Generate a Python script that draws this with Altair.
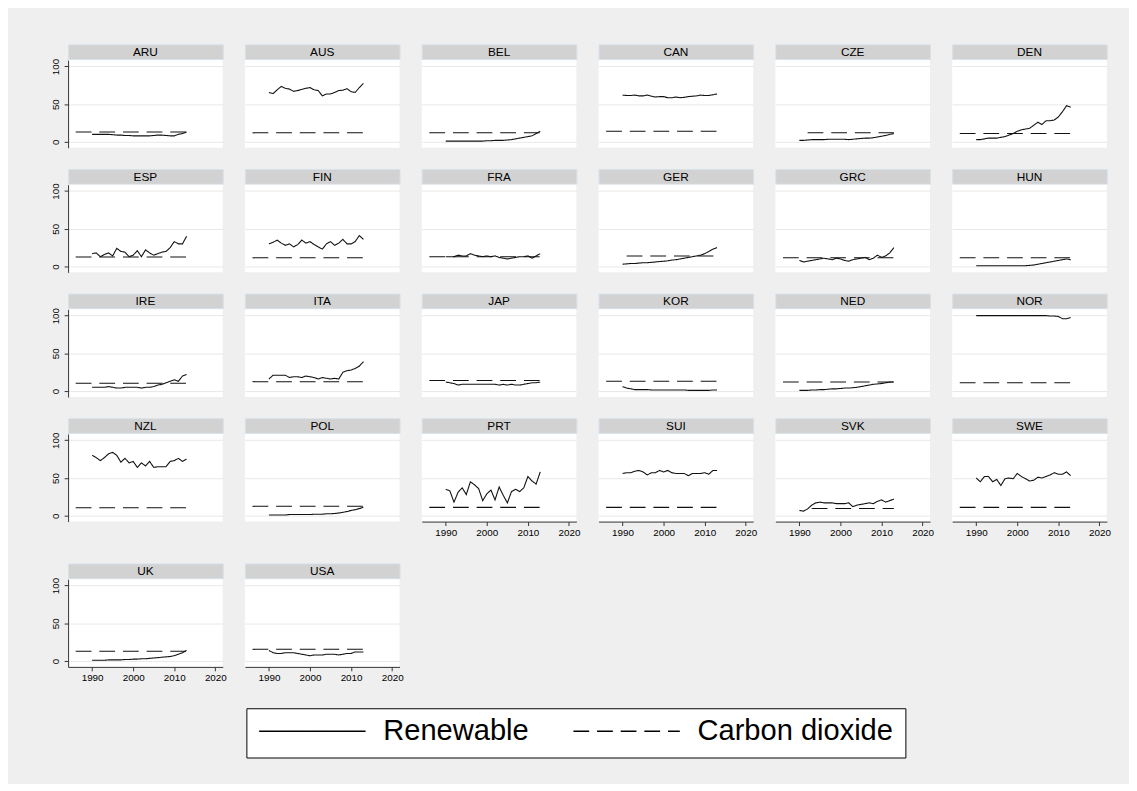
import altair as alt
import pandas as pd

COUNTRIES = ["ARU", "AUS", "BEL", "CAN", "CZE", "DEN",
             "ESP", "FIN", "FRA", "GER", "GRC", "HUN",
             "IRE", "ITA", "JAP", "KOR", "NED", "NOR",
             "NZL", "POL", "PRT", "SUI", "SVK", "SWE",
             "UK", "USA"]
X_AXIS_COUNTRIES = ["PRT", "SUI", "SVK", "SWE", "UK", "USA"]

REN_YEARS = list(range(1990, 2014))
X_TICKS = [1990, 2000, 2010, 2020]
Y_TICKS = [0, 50, 100]
SERIES = ["Renewable", "Carbon dioxide"]

# Renewable share, 1990-2013
REN_ARU = [10, 10, 10, 10, 10, 9.5, 9, 9, 8.5, 8.5, 8, 8, 8, 8, 8, 8.5, 9, 9, 8.5, 8, 8, 10, 11, 13]
REN_AUS = [65.5, 64, 69, 73.5, 71, 70, 67, 68, 69.5, 71, 72, 69, 68, 61, 63.5, 63.5, 65.5, 68, 68.5, 70.5, 66.5, 65.5, 72, 77.5]
REN_BEL = [1, 1, 1, 1, 1, 1, 1, 1, 1, 1, 1.5, 1.5, 2, 2, 2, 2.5, 3, 4, 5, 6, 7, 8, 11, 14]
REN_CAN = [62, 61.5, 61.5, 62, 61, 61, 62, 60.5, 59.5, 60, 60, 58.5, 58.5, 59.5, 58.5, 59, 60, 60.5, 61, 62, 61.5, 61.5, 62.5, 63.5]
REN_CZE = [2, 2, 2.5, 3, 3, 3, 3, 3.5, 3.5, 3.5, 3.5, 3.5, 3, 3.5, 4, 4.5, 5, 5, 5.5, 6.5, 7.5, 8.5, 10, 11]
REN_DEN = [3, 3, 4, 5, 5, 5, 6, 7, 9, 11, 14, 16, 17, 18, 22, 26, 23, 28, 28, 29, 33, 40, 48, 46]
REN_ESP = [17, 18, 13, 16, 18, 14, 24, 20, 19, 13, 15, 21, 13, 22, 18, 15, 17, 19, 20, 25, 33, 30, 30, 40]
REN_FIN = [30, 32, 35, 31, 28, 30, 26, 29, 35, 31, 33, 29, 26, 23, 30, 33, 28, 31, 36, 30, 30, 33, 41, 36]
REN_FRA = [13, 13, 13, 15, 14, 14, 17, 15, 14, 13, 14, 13, 14, 12, 11, 10, 11, 12, 13, 13, 14, 11, 14, 17]
REN_GER = [3, 3.5, 4, 4, 4.5, 5, 5, 5.5, 6, 6.5, 7, 7.5, 8.5, 9, 10, 11, 12, 13, 14, 15, 17, 20, 23, 25]
REN_GRC = [8, 6, 7, 8, 9, 10, 11, 10, 9, 11, 10, 8, 7, 9, 10, 11, 12, 9, 11, 15, 12, 14, 18, 25]
REN_HUN = [1, 1, 1, 1, 1, 1, 1, 1, 1, 1, 1, 1, 1, 1.5, 2, 3, 4, 5, 6, 7, 8, 9, 10, 9]
REN_IRE = [5, 5, 5, 5, 6, 5, 4, 4, 5, 5, 5, 5, 4, 5, 5, 6, 8, 9, 11, 13, 15, 13, 20, 22]
REN_ITA = [16, 21, 21, 21, 21, 18, 19, 19, 18, 20, 19, 18, 16, 18, 17, 16, 17, 16, 25, 27, 28, 30, 33, 39]
REN_JAP = [12, 11, 10, 8, 9, 9, 9, 9, 9, 9, 9, 9, 9, 8, 9, 8, 9, 8, 8, 9, 10, 11, 11, 12]
REN_KOR = [6, 4, 3, 2, 2, 2, 2, 1.5, 1.5, 1.5, 1.5, 1.5, 1.5, 1.5, 1.5, 1.5, 1, 1, 1, 1, 1, 1, 1.5, 1.5]
REN_NED = [1, 1, 1, 1.5, 1.5, 2, 2, 2.5, 3, 3, 3.5, 4, 4, 4.5, 5, 6, 7, 8, 9, 9.5, 10, 11, 12, 12]
REN_NOR = [100, 100, 100, 100, 100, 100, 100, 100, 100, 100, 100, 100, 100, 100, 100, 100, 100, 100, 99.5, 99.5, 99, 96, 96, 97.5]
REN_NZL = [80, 77, 73, 77, 82, 84, 80, 71, 76, 70, 72, 64, 70, 66, 72, 64, 65, 65, 65, 72, 73, 76, 72, 75]
REN_POL = [1, 1, 1, 1, 1, 1.5, 1.5, 1.5, 1.5, 1.5, 1.5, 2, 2, 2, 2.5, 2.5, 3, 3.5, 4.5, 5.5, 7, 8, 9.5, 11]
REN_PRT = [35, 33, 18, 31, 37, 28, 45, 41, 36, 20, 29, 34, 21, 38, 27, 17, 32, 35, 32, 37, 52, 46, 42, 58]
REN_SUI = [56, 57, 57, 59, 60, 58, 54, 57, 57, 60, 58, 60, 57, 56, 56, 56, 53, 56, 56, 56, 57, 55, 60, 60]
REN_SVK = [7, 6, 9, 14, 17, 18, 17, 17, 17, 16, 16, 16, 17, 12, 14, 15, 16, 17, 16, 19, 21, 18, 20, 22]
REN_SWE = [50, 45, 52, 52, 45, 48, 40, 49, 50, 49, 56, 52, 49, 46, 47, 51, 50, 52, 54, 57, 55, 55, 58, 53]
REN_UK = [1, 1, 1, 1, 1.5, 1.5, 1.5, 1.5, 2, 2, 2.5, 2.5, 3, 3, 3.5, 4, 4.5, 5, 5.5, 6, 7, 9, 11, 14]
REN_USA = [14, 11, 10, 10, 11, 11, 11, 10, 9, 8, 7, 8, 8, 8, 9, 9, 9, 8, 9, 10, 10, 12, 12, 12]

REN = [REN_ARU, REN_AUS, REN_BEL, REN_CAN, REN_CZE, REN_DEN,
       REN_ESP, REN_FIN, REN_FRA, REN_GER, REN_GRC, REN_HUN,
       REN_IRE, REN_ITA, REN_JAP, REN_KOR, REN_NED, REN_NOR,
       REN_NZL, REN_POL, REN_PRT, REN_SUI, REN_SVK, REN_SWE,
       REN_UK, REN_USA]

# Carbon dioxide: flat level per country, first year, last year 2013
CO2_LEVEL = [13, 12, 12, 14, 12, 11,
             12.5, 11.5, 13, 14, 11.5, 11.5,
             10.5, 12.5, 14, 13, 12, 11,
             10.5, 12.5, 11, 11, 9.5, 11,
             13, 15.5]
CO2_START = [1986, 1986, 1986, 1986, 1992, 1986,
             1986, 1986, 1986, 1991, 1986, 1986,
             1986, 1986, 1986, 1986, 1986, 1986,
             1986, 1986, 1986, 1986, 1993, 1986,
             1986, 1986]
CO2_END = 2013

rows = []
for i, c in enumerate(COUNTRIES):
    for yr, v in zip(REN_YEARS, REN[i]):
        rows.append({"country": c, "year": yr, "value": v, "series": SERIES[0]})
    rows.append({"country": c, "year": CO2_START[i], "value": CO2_LEVEL[i], "series": SERIES[1]})
    rows.append({"country": c, "year": CO2_END, "value": CO2_LEVEL[i], "series": SERIES[1]})
df = pd.DataFrame(rows)

PW, PH, HH = 157, 89, 15
FONT = "Liberation Sans"
AXIS_COL = "#333333"


def panel(c, col):
    d = df[df["country"] == c]
    show_x = c in X_AXIS_COUNTRIES
    show_y = col == 0
    # every panel gets the same x-axis footprint; hidden ones are transparent
    xcol = AXIS_COL if show_x else "transparent"
    lcol = "black" if show_x else "transparent"
    xaxis = alt.Axis(values=X_TICKS, title=None, grid=False, format="d",
                     labelFont=FONT, labelFontSize=10, labelColor=lcol,
                     tickSize=4, labelPadding=2, domainColor=xcol, tickColor=xcol)
    if show_y:
        yaxis = alt.Axis(values=Y_TICKS, title=None, grid=True, labelAngle=270,
                         labelFont=FONT, labelFontSize=10, labelColor="black",
                         tickSize=4, labelPadding=4, domainColor=AXIS_COL,
                         tickColor=AXIS_COL, gridColor="#e8e8e8")
    else:
        yaxis = alt.Axis(values=Y_TICKS, title=None, grid=True, labels=False,
                         ticks=False, domain=False, gridColor="#e8e8e8")
    plot = alt.Chart(d).mark_line(color="#111111", strokeWidth=1.1).encode(
        x=alt.X("year:Q", scale=alt.Scale(domain=[1984.15, 2021.8], nice=False, zero=False),
                axis=xaxis),
        y=alt.Y("value:Q", scale=alt.Scale(domain=[-7.8, 108.4], nice=False, zero=False),
                axis=yaxis),
        strokeDash=alt.StrokeDash("series:N",
                                  scale=alt.Scale(domain=SERIES, range=[[1, 0], [16, 8]]),
                                  legend=alt.Legend(title=None)),
        order="year:Q",
    ).properties(width=PW, height=PH,
                 view=alt.ViewBackground(fill="white", stroke="transparent"))
    header = alt.Chart(pd.DataFrame({"country": [c]})).mark_text(
        font=FONT, fontSize=12, fontWeight="normal", color="black",
        baseline="middle", align="center"
    ).encode(
        text="country:N", x=alt.value(PW / 2), y=alt.value(HH / 2 + 0.5)
    ).properties(width=PW, height=HH,
                 view=alt.ViewBackground(fill="#d2d2d2", stroke="#d6e2ea", strokeWidth=1))
    return alt.vconcat(header, plot, spacing=1, bounds="flush")


grid_rows = []
for r in range(5):
    items = COUNTRIES[r * 6:(r + 1) * 6]
    grid_rows.append(alt.hconcat(*[panel(c, j) for j, c in enumerate(items)], spacing=17.5))

upper = alt.vconcat(*grid_rows[:4], spacing=4.5)
chart = alt.vconcat(upper, grid_rows[4], spacing=25).properties(
    background="#efefef",
    padding={"left": 43, "top": 30, "right": 18, "bottom": 20},
).configure_view(strokeWidth=0).configure_legend(
    orient="none", legendX=181, legendY=674,
    direction="horizontal", columns=2,
    strokeColor="black", fillColor="white", padding=12,
    symbolType="stroke", symbolSize=11664, symbolStrokeWidth=1.6,
    symbolStrokeColor="black", clipHeight=22,
    labelFont=FONT, labelFontSize=29.5, labelColor="black", labelLimit=0,
    labelOffset=17, columnPadding=44,
)

chart.save("out.html", embed_options={"renderer": "svg", "actions": False})
